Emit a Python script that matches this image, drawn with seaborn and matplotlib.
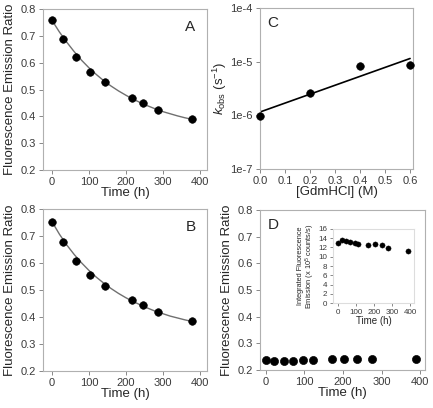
import numpy as np
import pandas as pd
import matplotlib
matplotlib.use("Agg")
import matplotlib.pyplot as plt
import seaborn as sns

# panel A / B kinetics
time_ab = [0, 30, 65, 103, 143, 218, 247, 288, 380]
ratio_a = [0.758, 0.690, 0.620, 0.565, 0.527, 0.468, 0.450, 0.423, 0.390]
ratio_b = [0.752, 0.677, 0.608, 0.555, 0.516, 0.462, 0.444, 0.417, 0.383]

# fitted curves
fit_t = [0, 20, 40, 60, 80, 100, 120, 140, 160, 180, 200, 220, 240, 260, 280, 300, 320, 340, 360, 380]
fit_a = [0.757, 0.714, 0.676, 0.641, 0.609, 0.581, 0.556, 0.533, 0.513, 0.495, 0.479, 0.464, 0.451, 0.439, 0.428, 0.418, 0.410, 0.402, 0.395, 0.389]
fit_b = [0.752, 0.706, 0.666, 0.631, 0.600, 0.572, 0.547, 0.525, 0.505, 0.487, 0.471, 0.457, 0.444, 0.432, 0.421, 0.412, 0.403, 0.396, 0.389, 0.383]

# panel C rate constants
gdm = [0.0, 0.2, 0.4, 0.6]
kobs = [9.7e-7, 2.6e-6, 8.3e-6, 8.7e-6]
line_x = [0.0, 0.6]
line_y = [1.15e-6, 1.15e-5]

# panel D
time_d = [0, 22, 47, 71, 97, 123, 171, 203, 236, 275, 389]
ratio_d = [0.2375, 0.235, 0.235, 0.235, 0.237, 0.237, 0.240, 0.241, 0.241, 0.242, 0.243]
time_in = [4, 23, 48, 71, 95, 114, 168, 207, 246, 280, 390]
emis_in = [12.9, 13.6, 13.3, 13.2, 13.0, 12.7, 12.5, 12.7, 12.5, 11.9, 11.3]

sns.set_style("white")
plt.rcParams['font.family'] = ['Liberation Sans', 'DejaVu Sans']
plt.rcParams['mathtext.fontset'] = 'custom'
plt.rcParams['mathtext.rm'] = 'Liberation Sans'
plt.rcParams['mathtext.it'] = 'Liberation Sans:italic'

fig = plt.figure(figsize=(4.33, 4.08), dpi=100)
axA = fig.add_axes([0.099, 0.583, 0.379, 0.395])
axB = fig.add_axes([0.099, 0.091, 0.379, 0.397])
axC = fig.add_axes([0.600, 0.586, 0.354, 0.394])
axD = fig.add_axes([0.600, 0.093, 0.382, 0.392])
axI = fig.add_axes([0.769, 0.257, 0.187, 0.182])

def style(ax, fs=8):
    for s in ax.spines.values():
        s.set_color('#b0b0b0')
        s.set_linewidth(0.8)
    ax.tick_params(direction='out', length=3, width=0.7, color='#888888',
                   labelsize=fs, labelcolor='#3a3a3a', pad=2,
                   left=True, bottom=True)

for ax, y, f, letter in [(axA, ratio_a, fit_a, 'A'), (axB, ratio_b, fit_b, 'B')]:
    sns.lineplot(x=fit_t, y=f, ax=ax, color='#707070', lw=1.0)
    sns.scatterplot(x=time_ab, y=y, ax=ax, color='black', s=30, edgecolor='black', zorder=3)
    ax.set_xlim(-25, 420)
    ax.set_ylim(0.2, 0.8)
    ax.set_xticks([0, 100, 200, 300, 400])
    ax.set_yticks(np.arange(0.2, 0.81, 0.1))
    ax.set_xlabel('Time (h)', fontsize=9.5, labelpad=0)
    ax.set_ylabel('Fluorescence Emission Ratio', fontsize=9.5, labelpad=3)
    ax.text(0.93, 0.93, letter, transform=ax.transAxes, ha='right', va='top', fontsize=11)
    style(ax)

# C
sns.lineplot(x=line_x, y=line_y, ax=axC, color='black', lw=1.2)
sns.scatterplot(x=gdm, y=kobs, ax=axC, color='black', s=30, edgecolor='black', zorder=3, clip_on=False)
axC.set_yscale('log')
axC.set_ylim(1e-7, 1e-4)
axC.set_xlim(0, 0.612)
axC.set_yticks([1e-7, 1e-6, 1e-5, 1e-4])
axC.set_yticklabels(['1e-7', '1e-6', '1e-5', '1e-4'])
axC.minorticks_off()
axC.set_xticks([0.0, 0.1, 0.2, 0.3, 0.4, 0.5, 0.6])
axC.set_xticklabels(['0.0', '0.1', '0.2', '0.3', '0.4', '0.5', '0.6'])
axC.set_xlabel('[GdmHCl] (M)', fontsize=9.5, labelpad=0)
axC.set_ylabel(r'$\mathit{k}_{\rm obs}$ (s$^{-1}$)', fontsize=9.5, labelpad=1)
axC.text(0.05, 0.95, 'C', transform=axC.transAxes, ha='left', va='top', fontsize=11)
style(axC)

# D
sns.scatterplot(x=time_d, y=ratio_d, ax=axD, color='black', s=34, edgecolor='black', zorder=3)
axD.set_xlim(-15, 413)
axD.set_ylim(0.2, 0.8)
axD.set_xticks([0, 100, 200, 300, 400])
axD.set_yticks(np.arange(0.2, 0.81, 0.1))
axD.set_xlabel('Time (h)', fontsize=9.5, labelpad=0)
axD.set_ylabel('Fluorescence Emission Ratio', fontsize=9.5, labelpad=3)
axD.text(0.05, 0.95, 'D', transform=axD.transAxes, ha='left', va='top', fontsize=11)
style(axD)

# inset
sns.scatterplot(x=time_in, y=emis_in, ax=axI, color='black', s=14, edgecolor='black', zorder=3)
axI.set_xlim(-25, 420)
axI.set_ylim(0, 16)
axI.set_xticks([0, 100, 200, 300, 400])
axI.set_yticks(range(0, 17, 2))
axI.set_xlabel('Time (h)', fontsize=7, labelpad=0)
axI.set_ylabel('Integrated Fluorescence\nEmission (x 10$^5$ counts/s)', fontsize=5.3, labelpad=1, linespacing=1.0)
style(axI, fs=5.8)
for s in axI.spines.values():
    s.set_color('#dddddd')
axI.tick_params(length=2)

fig.savefig('out.png', dpi=100)
